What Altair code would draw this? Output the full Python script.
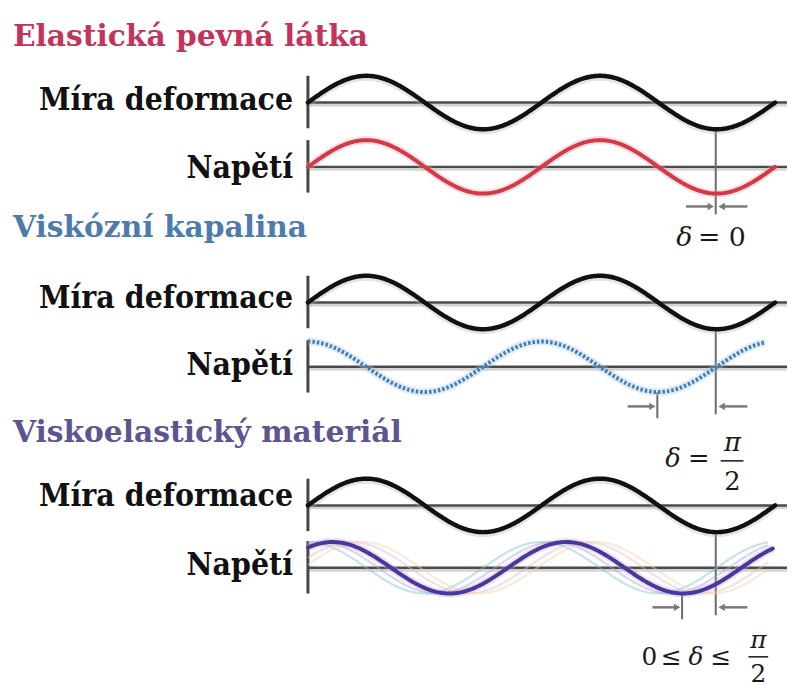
import numpy as np
import pandas as pd
import altair as alt

# ---------------- data ----------------
sections = ["Elastická pevná látka", "Viskózní kapalina", "Viskoelastický materiál"]
title_colors = ["#c4345a", "#4d7cab", "#5c5590"]
row_labels = ["Míra deformace", "Napětí"]
stress_colors = ["#d23a48", "#3f7db8", "#48389a"]
halo_colors = ["#f0a0b0", "#a8c8e8", "#c8a0e0"]
phase_lead = [0.0, np.pi / 2, 0.905]      # phase by which stress leads strain (rad)
stress_periods = [2.0, 1.96, 1.99]         # number of periods drawn
amp_strain = [27, 27, 27]
amp_stress = [27, 25.5, 26]
faint_leads = [np.pi / 2, 1.25, 0.40, 0.12]   # light family of curves in panel 3
faint_colors = ["#7cc3c9", "#a9a6de", "#efb6c2", "#f0d3a6"]
delta_texts = [["δ", "= 0"], ["δ", "=", "π", "2"], ["0", "≤", "δ", "≤", "π", "2"]]

FONT_T = "DejaVu Serif"
FONT_L = "'DejaVu Serif Condensed', 'DejaVu Serif'"
FONT_M = "DejaVu Serif"

# ---------------- layout ----------------
X0, PERIOD, XEND = 311, 236, 795
REF_X = 723
strain_y = [100, 302, 507]
stress_y = [165, 367, 570]
title_y = [43, 236, 443]
label_y = [[108, 176], [308, 375], [508, 577]]

xs = alt.Scale(domain=[8, 795], nice=False, zero=False)
ys = alt.Scale(domain=[8, 690], nice=False, zero=False, reverse=True)
X = lambda f: alt.X(f, scale=xs, axis=None)
Y = lambda f: alt.Y(f, scale=ys, axis=None)


def wave(axis, amp, lead, periods, n=400):
    t = np.linspace(0, periods, n)
    return X0 + t * PERIOD, axis - amp * np.sin(2 * np.pi * t + lead)


main_rows, halo_rows, faint_rows, dot_rows = [], [], [], []
for i in range(3):
    xx, yy = wave(strain_y[i], amp_strain[i], 0.0, 2.0)
    for a, b in zip(xx, yy):
        main_rows.append(dict(x=a, y=b, id=f"s{i}", c="#111111", w=4.5))
        halo_rows.append(dict(x=a, y=b + 1.5, id=f"s{i}", c="#b0b0b0", w=7))
    xx, yy = wave(stress_y[i], amp_stress[i], phase_lead[i], stress_periods[i])
    for a, b in zip(xx, yy):
        halo_rows.append(dict(x=a, y=b, id=f"p{i}", c=halo_colors[i], w=8))
        if i == 1:
            dot_rows.append(dict(x=a, y=b, id=f"p{i}", c=stress_colors[i], w=4))
        else:
            main_rows.append(dict(x=a, y=b, id=f"p{i}", c=stress_colors[i], w=4))
    if i == 2:
        for k, (ld, col) in enumerate(zip(faint_leads, faint_colors)):
            xx, yy = wave(stress_y[i], amp_stress[i], ld, 1.97)
            for a, b in zip(xx, yy):
                faint_rows.append(dict(x=a, y=b, id=f"f{k}", c=col, w=2.2))


def line_layer(rows, opacity=1.0, **kw):
    return alt.Chart(pd.DataFrame(rows)).mark_line(opacity=opacity, **kw).encode(
        x=X("x:Q"), y=Y("y:Q"), detail="id:N",
        color=alt.Color("c:N", scale=None),
        strokeWidth=alt.StrokeWidth("w:Q", scale=None),
    )


rules = []
for i in range(3):
    for ay in (strain_y[i], stress_y[i]):
        rules.append(dict(x=X0, x2=XEND, y=ay + 2.5, y2=ay + 2.5, c="#d4d4d4", w=3))
        rules.append(dict(x=X0, x2=XEND, y=ay, y2=ay, c="#4a4a4a", w=2.5))
        rules.append(dict(x=X0, x2=X0, y=ay - 27, y2=ay + 26, c="#444444", w=3))
    lag = phase_lead[i] / (2 * np.pi) * PERIOD
    tick_x = REF_X - lag
    rules.append(dict(x=REF_X, x2=REF_X, y=strain_y[i] + amp_strain[i], y2=stress_y[i] + 48, c="#6a6a6a", w=2))
    if lag > 0:
        rules.append(dict(x=tick_x, x2=tick_x, y=stress_y[i] + amp_stress[i], y2=stress_y[i] + 52, c="#6a6a6a", w=2))
    ay = stress_y[i] + 40
    rules.append(dict(x=tick_x - 30, x2=tick_x - 6, y=ay, y2=ay, c="#7a7a7a", w=2.5))
    rules.append(dict(x=REF_X + 32, x2=REF_X + 6, y=ay, y2=ay, c="#7a7a7a", w=2.5))
rules.append(dict(x=728, x2=751, y=462, y2=462, c="#222222", w=1.6))
rules.append(dict(x=756, x2=776, y=660, y2=660, c="#222222", w=1.6))
rule_layer = alt.Chart(pd.DataFrame(rules)).mark_rule().encode(
    x=X("x:Q"), x2="x2:Q", y=Y("y:Q"), y2="y2:Q",
    color=alt.Color("c:N", scale=None),
    strokeWidth=alt.StrokeWidth("w:Q", scale=None),
)

heads = []
for i in range(3):
    lag = phase_lead[i] / (2 * np.pi) * PERIOD
    ay = stress_y[i] + 40
    heads.append(dict(x=REF_X - lag - 5, y=ay, s="triangle-right"))
    heads.append(dict(x=REF_X + 6, y=ay, s="triangle-left"))
head_layer = alt.Chart(pd.DataFrame(heads)).mark_point(filled=True, size=55, color="#7a7a7a", opacity=1).encode(
    x=X("x:Q"), y=Y("y:Q"), shape=alt.Shape("s:N", scale=None)
)

titles = pd.DataFrame(dict(x=[13] * 3, y=title_y, t=sections, c=title_colors))
title_layer = alt.Chart(titles).mark_text(
    align="left", baseline="alphabetic", font=FONT_T, fontWeight="bold", fontSize=30
).encode(x=X("x:Q"), y=Y("y:Q"), text="t:N", color=alt.Color("c:N", scale=None))

lab_rows = []
for i in range(3):
    for j in range(2):
        lab_rows.append(dict(x=296, y=label_y[i][j], t=row_labels[j]))
label_layer = alt.Chart(pd.DataFrame(lab_rows)).mark_text(
    align="right", baseline="alphabetic", font=FONT_L, fontWeight="bold", fontSize=32, color="#111111"
).encode(x=X("x:Q"), y=Y("y:Q"), text="t:N")

# math pieces: (x, y, italic, size, align)
pos = [
    [(683, 245, True, 27, "left"), (705, 245, False, 27, "left")],
    [(672, 468, True, 26, "left"), (695, 468, False, 26, "left"), (740, 452, True, 26, "center"), (740, 491, False, 26, "center")],
    [(656, 668, False, 25, "center"), (678, 668, False, 25, "center"), (703, 668, True, 25, "center"), (728, 668, False, 25, "center"),
     (766, 651, True, 25, "center"), (766, 685, False, 25, "center")],
]
math_rows = []
for i in range(3):
    for txt, (x, y, it, sz, al) in zip(delta_texts[i], pos[i]):
        math_rows.append(dict(t=txt, x=x, y=y, it=it, sz=sz, al=al))
math_df = pd.DataFrame(math_rows)

math_layers = []
for it in (True, False):
    for al in ("left", "center"):
        sub = math_df[(math_df.it == it) & (math_df.al == al)]
        if len(sub) == 0:
            continue
        math_layers.append(
            alt.Chart(sub).mark_text(
                align=al, baseline="alphabetic", font=FONT_M,
                fontStyle="italic" if it else "normal", color="#1a1a1a"
            ).encode(x=X("x:Q"), y=Y("y:Q"), text="t:N", size=alt.Size("sz:Q", scale=None))
        )

chart = alt.layer(
    rule_layer,
    line_layer(halo_rows, opacity=0.35),
    line_layer(faint_rows, opacity=0.45),
    line_layer(main_rows, strokeCap="round"),
    line_layer(dot_rows, strokeDash=[2.5, 2], strokeCap="butt"),
    head_layer,
    title_layer,
    label_layer,
    *math_layers,
).properties(width=787, height=682, padding=0, autosize="none").configure_view(stroke=None)

chart.save("out.html", embed_options={"renderer": "svg", "actions": False})
